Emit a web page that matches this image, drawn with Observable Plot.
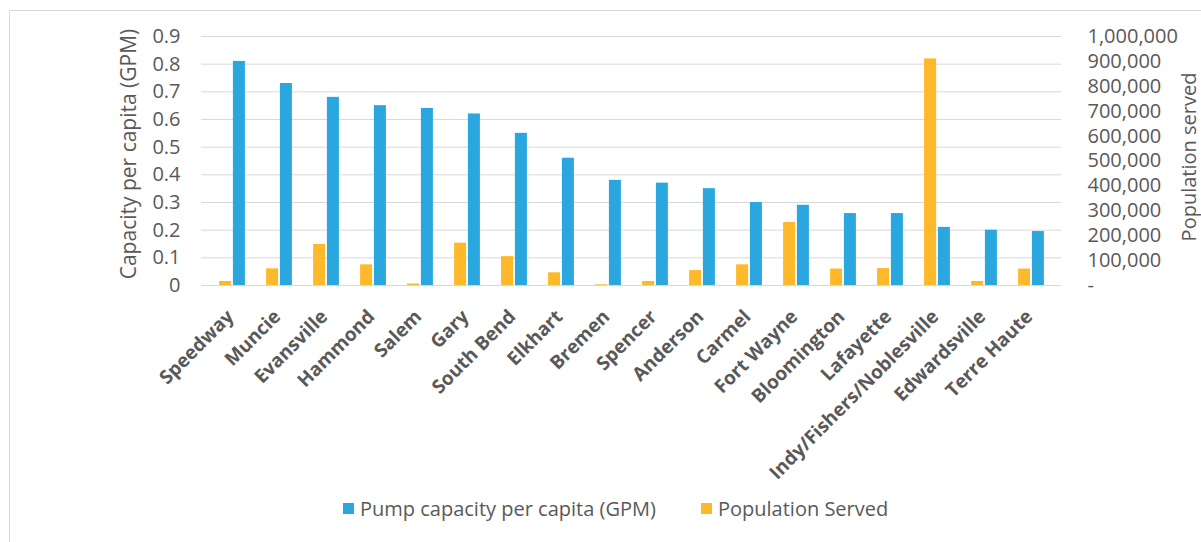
<!DOCTYPE html>
<html>
<head>
<meta charset="utf-8">
<script src="https://cdn.jsdelivr.net/npm/d3@7"></script>
<script src="https://cdn.jsdelivr.net/npm/@observablehq/plot@0.6"></script>
<style>
  body { margin: 0; background: #fff; }
  #wrap { position: relative; width: 1201px; height: 542px; overflow: hidden; font-family: "Open Sans", sans-serif; background: #fff; }
  #frame { position: absolute; left: 9px; top: 10px; width: 1300px; height: 700px; border: 1px solid #d9d9d9; box-sizing: border-box; }
  #chart { position: absolute; left: 0; top: 0; }
  #chart svg { display: block; }
  .leg { position: absolute; top: 499px; font-size: 20px; line-height: 19px; color: #595959; white-space: nowrap; }
  .sw { position: absolute; top: 503px; width: 11px; height: 11px; }
</style>
</head>
<body>
<div id="wrap">
  <div id="frame"></div>
  <div id="chart"></div>
</div>
<script>
// ---- data ----
const cities = ["Speedway", "Muncie", "Evansville", "Hammond", "Salem", "Gary", "South Bend", "Elkhart", "Bremen", "Spencer", "Anderson", "Carmel", "Fort Wayne", "Bloomington", "Lafayette", "Indy/Fishers/Noblesville", "Edwardsville", "Terre Haute"];
const capacityPerCapita = [0.81, 0.73, 0.68, 0.65, 0.64, 0.62, 0.55, 0.46, 0.38, 0.37, 0.35, 0.30, 0.29, 0.26, 0.26, 0.21, 0.20, 0.195];
const populationServed = [16000, 67000, 165000, 83000, 6000, 170000, 116000, 51000, 3000, 16000, 60000, 83000, 253000, 66000, 68000, 910000, 16000, 66000];
const leftTicks = [0, 0.1, 0.2, 0.3, 0.4, 0.5, 0.6, 0.7, 0.8, 0.9];
const rightTicks = [0, 100000, 200000, 300000, 400000, 500000, 600000, 700000, 800000, 900000, 1000000];
const seriesNames = ["Pump capacity per capita (GPM)", "Population Served"];
const colors = ["#2AA7DF", "#FDB92A"];
const leftMax = 0.9, rightMax = 1000000;
const k = leftMax / rightMax; // maps population onto the left axis units

const rows = cities.map((c, i) => ({city: c, cap: capacityPerCapita[i], pop: populationServed[i]}));
const grey = "#595959";
const fmt = d3.format(",");

const chart = Plot.plot({
  width: 1201,
  height: 542,
  marginLeft: 201,
  marginRight: 140,
  marginTop: 36,
  marginBottom: 257,
  style: {fontFamily: "'Open Sans', sans-serif", fontSize: "20px", color: grey, background: "transparent", overflow: "visible"},
  x: {type: "band", domain: cities, paddingInner: 0.749, paddingOuter: 0.3745, axis: null},
  y: {domain: [0, leftMax], axis: null},
  marks: [
    Plot.gridY(leftTicks, {stroke: "#d9d9d9", strokeOpacity: 1, strokeWidth: 1}),
    Plot.barY(rows, {x: "city", y: d => d.pop * k, fill: colors[1], dx: -6.9}),
    Plot.barY(rows, {x: "city", y: "cap", fill: colors[0], dx: 6.9}),
    Plot.axisY({anchor: "left", ticks: leftTicks, tickSize: 0, tickPadding: 21, fontSize: 20, label: null,
      tickFormat: d => Math.abs(d) < 1e-9 ? "0" : d3.format(".1f")(d)}),
    Plot.axisY({anchor: "right", ticks: rightTicks.map(v => v * k), tickSize: 0, tickPadding: 26, fontSize: 20, label: null,
      tickFormat: d => { const v = Math.round(d / k); return v === 0 ? "-" : fmt(v); }}),
    Plot.text(cities, {x: d => d, frameAnchor: "bottom", textAnchor: "end", lineAnchor: "middle",
      rotate: -45, dx: -2, dy: 28, fontWeight: 700, fontSize: 19, fill: grey}),
    Plot.text(["Capacity per capita (GPM)"], {frameAnchor: "left", textAnchor: "middle", rotate: -90, dx: -72, dy: -7,
      fontSize: 21, fill: grey, lineAnchor: "middle"}),
    Plot.text(["Population served"], {frameAnchor: "right", textAnchor: "middle", rotate: -90, dx: 128, dy: -4,
      fontSize: 20, fill: grey, lineAnchor: "middle"})
  ]
});
document.getElementById("chart").appendChild(chart);

// legend
const wrap = document.getElementById("wrap");
const legendItems = [
  {name: seriesNames[0], color: colors[0], sx: 343, tx: 360},
  {name: seriesNames[1], color: colors[1], sx: 701, tx: 718}
];
legendItems.forEach(it => {
  const s = document.createElement("div");
  s.className = "sw"; s.style.left = it.sx + "px"; s.style.background = it.color;
  wrap.appendChild(s);
  const t = document.createElement("div");
  t.className = "leg"; t.style.left = it.tx + "px"; t.textContent = it.name;
  wrap.appendChild(t);
});
</script>
</body>
</html>
